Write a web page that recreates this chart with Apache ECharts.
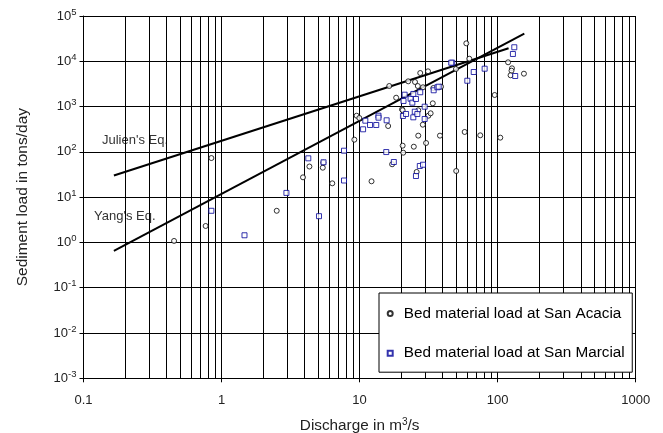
<!DOCTYPE html>
<html><head><meta charset="utf-8">
<script src="https://cdn.jsdelivr.net/npm/echarts@6/dist/echarts.min.js"></script>
<style>html,body{margin:0;padding:0;background:#fff}#c{width:663px;height:433px}</style>
</head><body><div id="c"></div>
<script>
// ---- data ----
const acaciaX = [0.453,0.767,0.844,2.51,3.89,4.33,5.41,5.46,6.34,9.52,9.95,9.16,12.2,16.1,16.4,17.2,18.4,20.3,20.5,20.5,20.7,22.5,24.7,25.2,25.9,26.4,26.6,26.6,27.5,28.7,28.8,30.3,31.3,31.5,32.7,33.9,34.2,38.2,38.9,49.9,50.1,57.7,59.3,62.3,74.8,95.2,104.5,119,127,126,124,155];
const acaciaY = [1.08,2.31,73,5.0,27.4,47.5,44.7,57.7,20.2,629,560,186,22.4,372,2845,53.2,1570,871,830,137,95.9,3610,130,3490,36,2845,828,228,5510,398,2670,157,6010,629,711,1180,2570,228,2750,6760,37.8,275,24900,11400,232,1800,206,9500,7000,6200,4910,5320];
const marcialX = [0.844,1.466,2.95,4.25,5.08,5.48,7.71,7.71,10.6,11.0,11.9,13.2,13.7,13.7,15.7,15.6,17.7,20.8,20.6,21.2,21.7,23.4,24.1,24.5,24.5,25.1,25.6,25.6,26.2,27.3,27.5,28.8,29.6,29.6,34.4,36.6,37.4,46.9,46.1,60.3,67.1,80.5,129,132,134];
const marcialY = [5.0,1.44,12.4,72,3.8,58.9,106,23.3,315,488,392,392,629,569,498,99,59.7,1330,620,1830,686,1490,1220,1900,579,771,1470,29.3,686,48.8,2070,52,994,532,2290,2670,2750,9300,9300,3720,5800,6860,14500,20400,4730];
const julienX = [0.166, 120];
const julienY = [30, 19400];
const yangX = [0.166, 156];
const yangY = [0.65, 40600];
const xTickLabels = ['0.1','1','10','100','1000'];
const yExponents = [-3,-2,-1,0,1,2,3,4,5];
const seriesNames = ['Bed material load at San Acacia','Bed material load at San Marcial'];
const eqLabels = ["Julien's Eq.", "Yang's Eq."];

const FONT = 'Liberation Sans, Arial, sans-serif';
const zip = (xs, ys) => xs.map((x, i) => [x, ys[i]]);
// minor vertical grid lines at 2..9 of each decade
const minorX = [];
for (let d = -1; d < 3; d++) for (let k = 2; k <= 9; k++) minorX.push(+(k * Math.pow(10, d)).toPrecision(3));

const chart = echarts.init(document.getElementById('c'), null, {renderer: 'canvas'});
chart.setOption({
  animation: false,
  backgroundColor: '#fff',
  textStyle: {fontFamily: FONT},
  grid: {left: 83.5, top: 16, width: 552.2, height: 362.3, containLabel: false, outerBoundsMode: 'none'},
  xAxis: {
    type: 'log', logBase: 10, min: 0.1, max: 1000, splitNumber: 4,
    axisLine: {show: true, lineStyle: {color: '#000', width: 1}},
    axisTick: {show: true, inside: false, length: 4, lineStyle: {color: '#000'}},
    minorTick: {show: false},
    splitLine: {show: true, lineStyle: {color: '#000', width: 1}},
    axisLabel: {fontSize: 13, color: '#222', fontFamily: FONT, margin: 16,
      showMinLabel: true, showMaxLabel: true,
      formatter: v => { const e = Math.round(Math.log10(v)); return xTickLabels[e + 1]; }},
    name: 'Discharge in m{s|3}/s', nameLocation: 'middle', nameGap: 39,
    nameTextStyle: {fontSize: 15.3, color: '#222', fontFamily: FONT,
      rich: {s: {fontSize: 10, color: '#222', fontFamily: FONT, verticalAlign: 'top', padding: [0, 0, 7, 0]}}}
  },
  yAxis: {
    type: 'log', logBase: 10, min: 0.001, max: 100000, splitNumber: 8,
    axisLine: {show: true, lineStyle: {color: '#000', width: 1}},
    axisTick: {show: true, inside: false, length: 4, lineStyle: {color: '#000'}},
    splitLine: {show: true, lineStyle: {color: '#000', width: 1}},
    axisLabel: {margin: 7, showMinLabel: true, showMaxLabel: true,
      formatter: v => { const e = Math.round(Math.log10(v)); return '{b|10}{s|' + yExponents[e + 3] + '}'; },
      rich: {
        b: {fontSize: 13, color: '#222', fontFamily: FONT},
        s: {fontSize: 9.5, color: '#222', fontFamily: FONT, verticalAlign: 'top', padding: [0, 0, 8, 0]}
      }},
    name: 'Sediment load in tons/day', nameLocation: 'middle', nameGap: 53, nameRotate: 90,
    nameTextStyle: {fontSize: 15.5, color: '#222', fontFamily: FONT}
  },
  legend: {
    left: 379, top: 293, orient: 'vertical', z: 50, zlevel: 0,
    backgroundColor: '#fff', borderColor: '#000', borderWidth: 1, borderRadius: 0,
    padding: [13, 7.5, 11.5, 7.7], itemGap: 24.7, itemWidth: 5, itemHeight: 5,
    textStyle: {fontSize: 15.3, color: '#000', fontFamily: FONT, padding: [0, 0, 0, 6]},
    data: [{name: seriesNames[0], icon: 'circle'}, {name: seriesNames[1], icon: 'rect'}]
  },
  series: [
    {
      type: 'line', name: 'Julien', data: zip(julienX, julienY), symbol: 'none',
      lineStyle: {color: '#000', width: 2}, z: 3, silent: true,
      markLine: {
        silent: true, symbol: ['none', 'none'], animation: false, z: 1,
        label: {show: false}, lineStyle: {color: '#000', width: 1, type: 'solid'},
        emphasis: {disabled: true},
        data: minorX.map(v => ({xAxis: v}))
      }
    },
    {type: 'line', name: 'Yang', data: zip(yangX, yangY), symbol: 'none',
      lineStyle: {color: '#000', width: 2}, z: 3, silent: true},
    {type: 'scatter', name: seriesNames[0], data: zip(acaciaX, acaciaY), symbol: 'circle', symbolSize: 5,
      itemStyle: {color: '#fff', borderColor: '#000', borderWidth: 1}, z: 4},
    {type: 'scatter', name: seriesNames[1], data: zip(marcialX, marcialY), symbol: 'rect', symbolSize: 5,
      itemStyle: {color: '#fff', borderColor: '#000099', borderWidth: 1}, z: 4}
  ],
  graphic: [
    {type: 'text', left: 102, top: 134, style: {text: eqLabels[0], fontSize: 13, fill: '#333', fontFamily: FONT}},
    {type: 'text', left: 94, top: 210, style: {text: eqLabels[1], fontSize: 13, fill: '#333', fontFamily: FONT}}
  ]
});
</script></body></html>
